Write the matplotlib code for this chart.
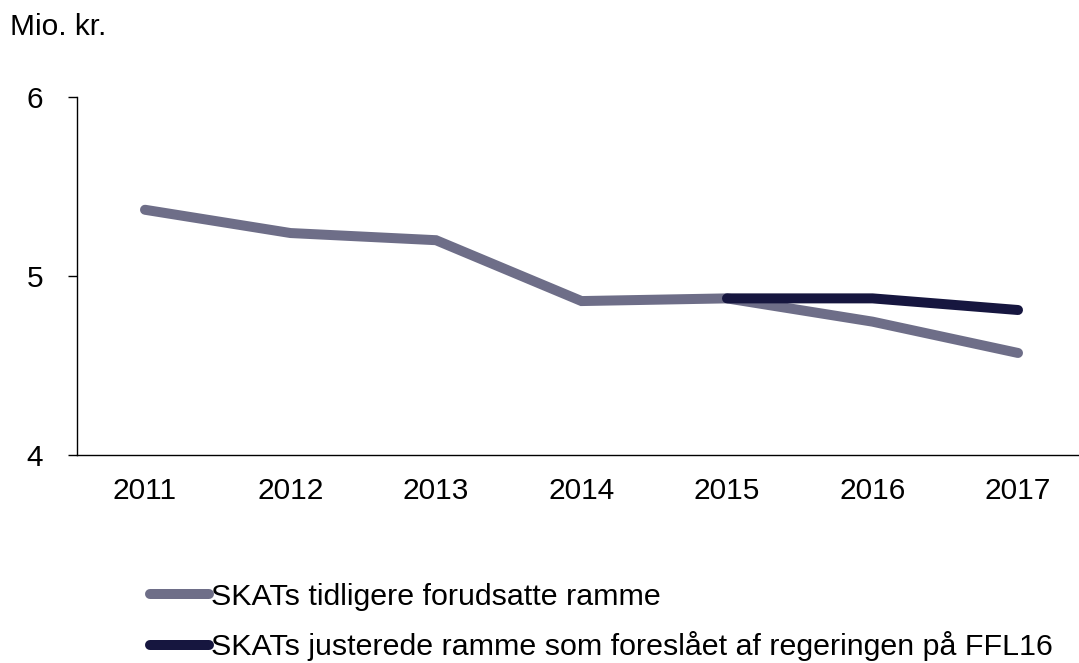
import matplotlib
matplotlib.use('Agg')
import matplotlib.pyplot as plt

# Data
years = ['2011', '2012', '2013', '2014', '2015', '2016', '2017']
previous_frame = [5.37, 5.24, 5.20, 4.86, 4.875, 4.745, 4.57]
adjusted_years = ['2015', '2016', '2017']
adjusted_frame = [4.875, 4.875, 4.81]

labels = ['SKATs tidligere forudsatte ramme',
          'SKATs justerede ramme som foreslået af regeringen på FFL16']
colors = ['#6e6e88', '#16163f']

plt.rcParams['font.family'] = ['Liberation Sans', 'DejaVu Sans']
FS = 21.5

W, H = 1079, 663
fig = plt.figure(figsize=(W / 100, H / 100), dpi=100)
# axes in pixel terms: left spine at x=77, runs to right edge; y from 455 (4) to 97 (6)
ax = fig.add_axes([77 / W, (H - 455) / H, (W - 77) / W, (455 - 97) / H])

x_all = list(range(len(years)))
x_adj = [years.index(y) for y in adjusted_years]

ax.plot(x_all, previous_frame, color=colors[0], lw=7.2,
        solid_capstyle='round', solid_joinstyle='miter', label=labels[0])
ax.plot(x_adj, adjusted_frame, color=colors[1], lw=7.2,
        solid_capstyle='round', solid_joinstyle='miter', label=labels[1])

ax.set_ylim(4, 6)
ax.set_yticks([4, 5, 6])
ax.set_xlim(-68 / 145.5, 6 + 61 / 145.5)
ax.set_xticks(x_all)
ax.set_xticklabels(years)

for s in ['top', 'right']:
    ax.spines[s].set_visible(False)
for s in ['left', 'bottom']:
    ax.spines[s].set_linewidth(1.0)
    ax.spines[s].set_color('black')

ax.tick_params(axis='y', direction='out', length=6.5, width=1.0,
               labelsize=FS, pad=18)
ax.tick_params(axis='x', length=0, labelsize=FS, pad=16)

fig.text(10 / W, 1 - 27 / H, 'Mio. kr.', fontsize=FS, va='center', ha='left')

fig.legend(loc='center left', bbox_to_anchor=(150 / W, 1 - 622 / H),
           frameon=False, fontsize=21.9, handlelength=1.95,
           handletextpad=0.05, labelspacing=0.68, borderpad=0,
           borderaxespad=0)

fig.savefig('out.png', dpi=100)
